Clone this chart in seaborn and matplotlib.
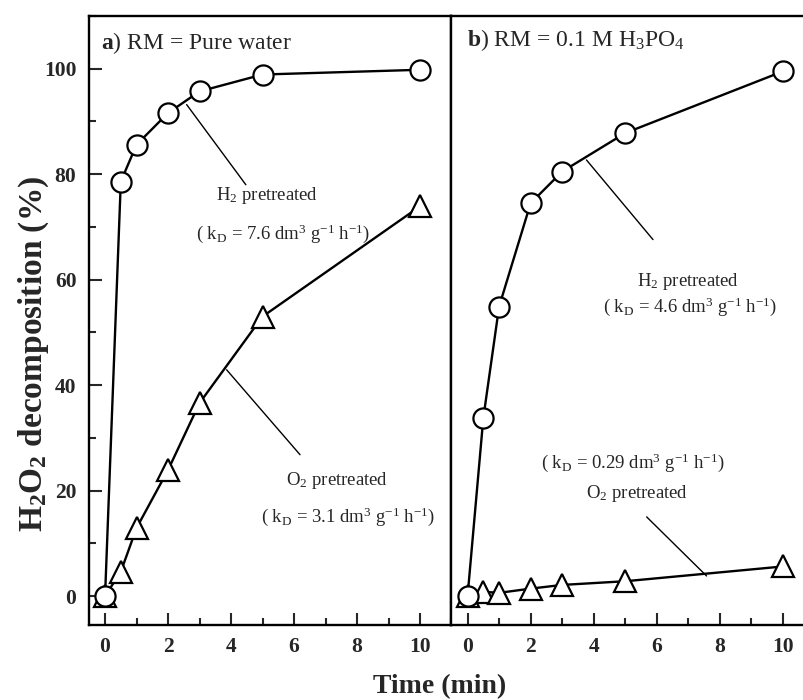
import numpy as np
import pandas as pd
import matplotlib
matplotlib.use("Agg")
import matplotlib.pyplot as plt
from matplotlib.ticker import MultipleLocator
import seaborn as sns

# Reaction time (min)
time_min = [0, 0.5, 1, 2, 3, 5, 10]

# a) RM = pure water
water_h2 = [0, 78.6, 85.6, 91.6, 95.7, 98.9, 99.8]
water_o2 = [0, 4.6, 12.9, 23.9, 36.6, 53.0, 73.9]

# b) RM = 0.1 M H3PO4
acid_h2 = [0, 33.8, 54.9, 74.5, 80.5, 87.8, 99.5]
acid_o2 = [0, 0.8, 0.6, 1.4, 2.1, 2.8, 5.6]

x_ticks = [0, 2, 4, 6, 8, 10]
y_ticks = [0, 20, 40, 60, 80, 100]

sns.set_theme(style="ticks")
plt.rcParams["font.family"] = ["Liberation Serif", "DejaVu Serif"]
plt.rcParams["mathtext.fontset"] = "custom"
plt.rcParams["mathtext.rm"] = "Liberation Serif"
plt.rcParams["mathtext.it"] = "Liberation Serif:italic"
plt.rcParams["mathtext.bf"] = "Liberation Serif:bold"

fig = plt.figure(figsize=(8.04, 7.0), dpi=100)
W, H = 804, 700
ax1 = fig.add_axes([89 / W, 75 / H, 362.5 / W, 609 / H])
ax2 = fig.add_axes([451.5 / W, 75 / H, 352.5 / W, 609 / H])

df = pd.DataFrame({
    "t": time_min * 4,
    "val": water_h2 + water_o2 + acid_h2 + acid_o2,
    "panel": ["a"] * 14 + ["b"] * 14,
    "gas": (["H2"] * 7 + ["O2"] * 7) * 2,
})

marker_of = {"H2": ("o", 14.5), "O2": ("^", 15.5)}

for ax, panel in ((ax1, "a"), (ax2, "b")):
    for gas in ("O2", "H2"):
        sub = df[(df.panel == panel) & (df.gas == gas)]
        m, ms = marker_of[gas]
        sns.lineplot(data=sub, x="t", y="val", ax=ax, color="black",
                     linewidth=1.7, marker=m, markersize=ms,
                     markerfacecolor="white", markeredgecolor="black",
                     markeredgewidth=1.6, zorder=3, legend=False)
    ax.set_ylim(-5.5, 110)
    ax.set_xticks(x_ticks)
    ax.xaxis.set_minor_locator(MultipleLocator(1))
    ax.set_yticks(y_ticks)
    ax.yaxis.set_minor_locator(MultipleLocator(10))
    ax.set_xlabel("")
    ax.set_ylabel("")
    ax.tick_params(axis="both", which="major", direction="in", length=9,
                   width=1.5, labelsize=15.5, pad=9)
    ax.tick_params(axis="both", which="minor", direction="in", length=5,
                   width=1.5)
    ax.tick_params(top=False, right=False, which="both")
    for s in ax.spines.values():
        s.set_linewidth(1.7)
        s.set_color("black")
    for lab in ax.get_xticklabels() + ax.get_yticklabels():
        lab.set_fontweight("bold")

ax1.set_xlim(-0.51, 11.0)
ax2.set_xlim(-0.51, 10.67)
ax2.tick_params(axis="y", which="both", left=False, labelleft=False)
ax2.spines["right"].set_visible(False)

# Panel headings
ax1.text(0.034, 0.945, r"$\mathbf{a}$) RM = Pure water", transform=ax1.transAxes,
         fontsize=17, va="baseline", ha="left")
ax2.text(0.043, 0.951, r"$\mathbf{b}$) RM = 0.1 M H$_3$PO$_4$", transform=ax2.transAxes,
         fontsize=17, va="baseline", ha="left")

fs = 13.5
line_kw = dict(arrowstyle="-", color="black", lw=1.0, shrinkA=0, shrinkB=0)

# Panel a annotations
ax1.annotate("", xy=(2.59, 93.2), xytext=(4.47, 78.0), arrowprops=line_kw)
ax1.text(5.13, 75.1, r"H$_2$ pretreated", fontsize=fs, ha="center", va="baseline")
ax1.text(5.65, 67.8, r"( k$_\mathrm{D}$ = 7.6 dm$^3$ g$^{-1}$ h$^{-1}$)", fontsize=fs,
         ha="center", va="baseline")
ax1.annotate("", xy=(3.86, 42.9), xytext=(6.19, 26.8), arrowprops=line_kw)
ax1.text(7.37, 21.0, r"O$_2$ pretreated", fontsize=fs, ha="center", va="baseline")
ax1.text(7.72, 14.0, r"( k$_\mathrm{D}$ = 3.1 dm$^3$ g$^{-1}$ h$^{-1}$)", fontsize=fs,
         ha="center", va="baseline")

# Panel b annotations
ax2.annotate("", xy=(3.77, 82.7), xytext=(5.88, 67.6), arrowprops=line_kw)
ax2.text(7.0, 58.8, r"H$_2$ pretreated", fontsize=fs, ha="center", va="baseline")
ax2.text(7.06, 53.9, r"( k$_\mathrm{D}$ = 4.6 dm$^3$ g$^{-1}$ h$^{-1}$)", fontsize=fs,
         ha="center", va="baseline")
ax2.annotate("", xy=(7.58, 3.8), xytext=(5.68, 15.0), arrowprops=line_kw)
ax2.text(5.25, 24.3, r"( k$_\mathrm{D}$ = 0.29 dm$^3$ g$^{-1}$ h$^{-1}$)", fontsize=fs,
         ha="center", va="baseline")
ax2.text(5.38, 18.6, r"O$_2$ pretreated", fontsize=fs, ha="center", va="baseline")

# Shared axis titles
fig.text(34 / W, 1 - 354 / H, r"H$_\mathbf{2}$O$_\mathbf{2}$ decomposition (%)",
         rotation=90, fontsize=24, fontweight="bold", ha="center", va="center")
fig.text(440 / W, 1 - 687 / H, "Time (min)", fontsize=20, fontweight="bold",
         ha="center", va="center")

fig.savefig("out.png", dpi=100)
